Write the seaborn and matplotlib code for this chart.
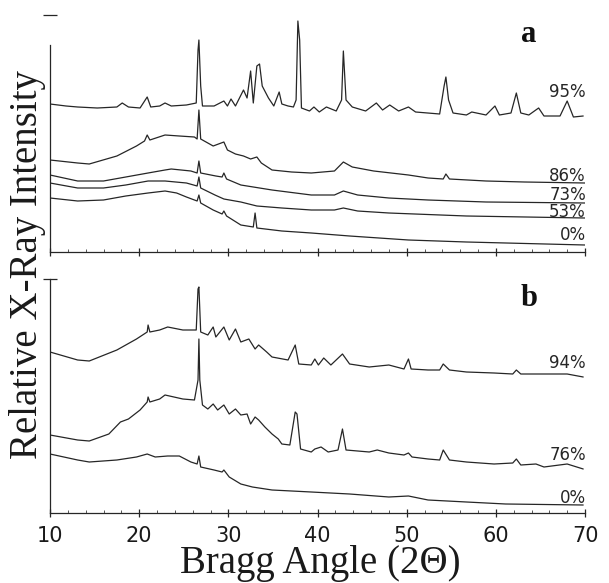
import matplotlib
matplotlib.use("Agg")
import matplotlib.pyplot as plt
import seaborn as sns
import numpy as np

# ---- panel a: diffraction traces (2-theta in degrees, relative intensity) ----
a95_deg = [10, 11.8, 13.1, 15.3, 17.5, 18.1, 18.8, 20.1, 20.9, 21.3, 22.3, 22.9, 23.6, 25.3, 26.4,
           26.6, 26.7, 26.9, 27.1, 28.4, 29.5, 29.9, 30.3, 30.8, 31.7, 32.1, 32.5, 32.8, 33.2, 33.5,
           33.8, 34.5, 35.1, 35.7, 36.0, 36.7, 37.3, 37.6, 37.8, 38.0, 38.2, 39.1, 39.6, 40.2, 41.0,
           42.1, 42.7, 42.9, 43.2, 43.9, 45.4, 46.6, 47.3, 48.1, 49.1, 50.2, 51.0, 53.7, 54.2, 54.4,
           54.7, 55.2, 56.7, 57.3, 58.9, 59.9, 60.4, 61.7, 62.3, 62.8, 63.7, 64.8, 65.4, 67.2, 68.0,
           68.7, 69.8]
a95_int = [148, 146, 145, 144, 145, 149, 145, 144, 155, 145, 146, 149, 146, 147, 149,
           202, 212, 166, 146, 146, 151, 146, 153, 146, 162, 154, 181, 149, 186, 188,
           166, 154, 146, 160, 148, 146, 145, 152, 231, 212, 144, 141, 145, 140, 145,
           141, 152, 201, 152, 145, 141, 149, 142, 147, 141, 145, 140, 138, 166, 175,
           152, 139, 137, 140, 137, 146, 137, 139, 159, 139, 137, 144, 136, 136, 151,
           135, 136]

a86_deg = [10, 13.1, 14.4, 17.5, 19.7, 20.6, 20.9, 21.2, 22.9, 24.5, 26.2, 26.5, 26.7, 26.9, 27.5,
           28.3, 29.5, 29.9, 30.8, 31.7, 32.5, 33.2, 33.7, 34.9, 37.1, 39.3, 41.9, 42.9, 43.9, 46.3,
           50.2, 52.4, 54.1, 54.4, 54.8, 58.9, 63.2, 70]
a86_int = [92, 89, 88, 96, 106, 111, 117, 112, 117, 116, 115, 113, 142, 113, 110,
           106, 110, 102, 98, 96, 93, 95, 89, 82, 80, 79, 81, 90, 85, 81,
           77, 74, 73, 78, 73, 71, 70, 69]

a73_deg = [10, 13.1, 16.0, 18.5, 21.0, 22.9, 23.6, 25.8, 26.5, 26.7, 26.9, 28.6, 29.3, 29.5, 29.8,
           31.4, 34.9, 39.3, 41.9, 42.9, 44.5, 48.0, 52.4, 58.9, 70]
a73_int = [77, 71, 71, 75, 79, 82, 83, 81, 79, 91, 79, 76, 75, 79, 73,
           67, 62, 57, 57, 61, 57, 54, 52, 50, 49]

a53_deg = [10, 13.1, 16.0, 18.5, 21.0, 22.9, 25.3, 26.5, 26.7, 26.9, 28.5, 29.5, 31.4, 33.2, 36.0,
           39.3, 41.9, 42.9, 44.5, 48.0, 56.7, 70]
a53_int = [69, 64, 64, 67, 71, 71, 69, 66, 75, 64, 57, 53, 50, 46, 44,
           42, 42, 44, 41, 39, 36, 34]

a0_deg = [10, 13.1, 16.0, 18.5, 21.0, 22.9, 24.2, 25.3, 26.5, 26.7, 26.9, 28.3, 29.3, 29.5, 29.8,
          31.4, 32.8, 33.0, 33.2, 36.0, 39.3, 43.6, 50.2, 56.7, 70]
a0_int = [54, 51, 52, 56, 59, 61, 59, 55, 51, 57, 49, 42, 38, 41, 36,
          27, 25, 39, 24, 21, 19, 16, 12, 10, 7]

# ---- panel b ----
b94_deg = [10, 13.1, 14.4, 17.5, 19.7, 20.9, 21.0, 21.2, 22.3, 23.2, 24.9, 26.4, 26.6, 26.7, 26.9,
           27.7, 28.3, 28.6, 29.5, 30.1, 30.8, 31.4, 32.3, 33.0, 33.4, 34.3, 34.9, 36.7, 37.5, 37.9,
           39.3, 39.7, 40.1, 40.7, 41.5, 42.8, 43.6, 45.8, 48.0, 49.7, 50.2, 50.5, 52.4, 53.7, 54.1,
           54.8, 56.7, 59.8, 61.9, 62.3, 62.8, 65.4, 68.0, 69.8]
b94_int = [161, 153, 152, 163, 174, 181, 188, 181, 183, 186, 183, 183, 224, 226, 181,
           178, 186, 176, 186, 173, 184, 171, 174, 164, 168, 161, 156, 153, 168, 149,
           148, 154, 148, 155, 148, 159, 149, 146, 148, 144, 154, 144, 143, 143, 149,
           143, 141, 140, 139, 143, 139, 139, 139, 136]

b76_deg = [10, 13.1, 14.4, 16.6, 17.9, 18.8, 20.1, 20.9, 21.0, 21.2, 22.3, 22.9, 24.9, 26.2, 26.6,
           26.7, 26.8, 27.1, 27.7, 28.3, 28.8, 29.5, 30.1, 30.8, 31.4, 32.1, 32.5, 33.0, 33.4, 34.1,
           34.9, 35.6, 36.0, 36.9, 37.5, 37.7, 38.1, 39.3, 39.7, 40.4, 41.2, 42.3, 42.8, 43.2, 45.8,
           46.7, 48.0, 49.7, 50.2, 50.6, 52.4, 53.7, 54.1, 54.8, 56.7, 59.8, 61.9, 62.3, 62.8, 64.5,
           65.4, 68.0, 69.8]
b76_int = [78, 73, 72, 79, 91, 94, 103, 111, 116, 111, 114, 118, 114, 113, 133,
           174, 133, 108, 104, 109, 103, 108, 99, 104, 98, 99, 89, 96, 93, 86,
           79, 74, 69, 68, 101, 99, 64, 61, 64, 66, 61, 63, 84, 63, 61,
           63, 60, 58, 60, 56, 54, 53, 63, 53, 51, 49, 50, 54, 48, 49,
           46, 49, 44]

b0_deg = [10, 13.1, 14.4, 17.5, 19.7, 20.9, 21.8, 23.2, 24.5, 25.8, 26.5, 26.7, 26.9, 28.4, 29.3,
          29.5, 30.1, 31.4, 32.7, 34.9, 39.3, 43.6, 48.0, 50.2, 52.4, 56.7, 61.1, 69.8]
b0_int = [59, 53, 51, 53, 56, 59, 56, 57, 57, 51, 49, 57, 46, 43, 41,
          43, 36, 29, 26, 23, 21, 19, 16, 17, 13, 11, 9, 8]

# label text and the height it sits at, per panel
a_labels = ["95%", "86%", "73%", "53%", "0%"]
a_label_y = [160, 76, 57, 40, 17]
b_labels = ["94%", "76%", "0%"]
b_label_y = [150, 58, 15]

x_ticks = [10, 20, 30, 40, 50, 60, 70]

sns.set_theme(style="white")
plt.rcParams["font.family"] = ["DejaVu Sans"]
serif = ["Liberation Serif", "DejaVu Serif"]

W, H = 609, 583
fig = plt.figure(figsize=(W / 100, H / 100), dpi=100)
ax_a = fig.add_axes([50 / W, 1 - 252 / H, 535 / W, 237 / H])
ax_b = fig.add_axes([50 / W, 1 - 513 / H, 535 / W, 234 / H])

ink = "#262626"

def draw_panel(ax, traces, labels, label_y, ytop, letter, show_ticklabels):
    for deg, inten in traces:
        sns.lineplot(x=deg, y=inten, ax=ax, color=ink, linewidth=0.9,
                     estimator=None, sort=False)
    for txt, yy in zip(labels, label_y):
        ax.text(70.1, yy, txt, ha="right", va="center", fontsize=12,
                color=ink, family=["DejaVu Sans"])
    ax.text(63.7, ytop - 19, letter, ha="center", va="center", fontsize=22,
            fontweight="bold", family=serif, color="#111111")
    ax.set_xlim(10, 70)
    ax.set_ylim(0, ytop)
    for s in ("top", "right"):
        ax.spines[s].set_visible(False)
    for s in ("left", "bottom"):
        ax.spines[s].set_color(ink)
        ax.spines[s].set_linewidth(0.9)
    ax.set_xticks(x_ticks)
    ax.set_xticks(np.arange(10, 71, 2), minor=True)
    ax.set_yticks([ytop])
    ax.set_yticklabels([])
    ax.tick_params(axis="x", which="major", direction="inout", length=6,
                   width=0.9, color=ink, bottom=True,
                   labelbottom=show_ticklabels, labelsize=15, pad=6,
                   labelcolor="#1a1a1a")
    ax.tick_params(axis="x", which="minor", direction="in", length=2,
                   width=0.7, color="#555555", bottom=True)
    ax.tick_params(axis="y", which="major", direction="inout", length=10,
                   width=0.9, color=ink, left=True)
    ax.set_xlabel("")
    ax.set_ylabel("")
    ax.grid(False)

draw_panel(ax_a, [(a95_deg, a95_int), (a86_deg, a86_int), (a73_deg, a73_int),
                  (a53_deg, a53_int), (a0_deg, a0_int)],
           a_labels, a_label_y, 237, "a", False)
ax_a.spines["left"].set_bounds(0, 207)

draw_panel(ax_b, [(b94_deg, b94_int), (b76_deg, b76_int), (b0_deg, b0_int)],
           b_labels, b_label_y, 234, "b", True)
ax_b.set_xticklabels([str(t) for t in x_ticks])

fig.text(28 / W, 1 - 265 / H, "Relative X-Ray Intensity", rotation=90,
         ha="center", va="center", fontsize=28, family=serif, color="#1a1a1a")
fig.text(320 / W, 1 - 563 / H, "Bragg Angle (2\u0398)", ha="center", va="center",
         fontsize=28, family=serif, color="#1a1a1a")

fig.savefig("out.png", dpi=100)
